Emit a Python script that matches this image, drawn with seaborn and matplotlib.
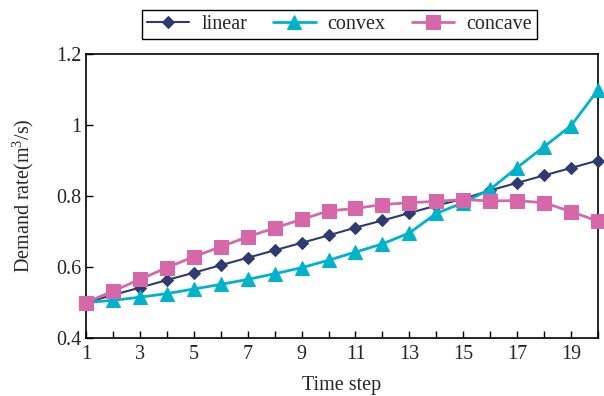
import matplotlib
matplotlib.use("Agg")
import matplotlib.pyplot as plt
import seaborn as sns
import pandas as pd
from matplotlib.ticker import MultipleLocator, FuncFormatter

time_step = list(range(1, 21))
linear = [0.500, 0.521, 0.542, 0.563, 0.584, 0.605, 0.626, 0.647, 0.668, 0.689,
          0.711, 0.731, 0.752, 0.773, 0.792, 0.816, 0.837, 0.858, 0.879, 0.900]
convex = [0.500, 0.506, 0.515, 0.525, 0.538, 0.551, 0.565, 0.581, 0.598, 0.619,
          0.642, 0.665, 0.696, 0.751, 0.781, 0.819, 0.880, 0.939, 0.998, 1.099]
concave = [0.500, 0.532, 0.565, 0.598, 0.629, 0.657, 0.685, 0.710, 0.734, 0.758,
           0.765, 0.776, 0.781, 0.785, 0.790, 0.786, 0.787, 0.781, 0.756, 0.729]

series_names = ["linear", "convex", "concave"]
colors = {"linear": "#2E3A70", "convex": "#00B2CA", "concave": "#D667A8"}
markers = {"linear": "D", "convex": "^", "concave": "s"}
msizes = {"linear": 6.5, "convex": 10.5, "concave": 10.5}
lws = {"linear": 1.5, "convex": 2.0, "concave": 2.0}

df = pd.DataFrame({"Time step": time_step * 3,
                   "value": linear + convex + concave,
                   "series": ["linear"] * 20 + ["convex"] * 20 + ["concave"] * 20})

sns.set_style("white")
plt.rcParams["font.family"] = ["Liberation Serif", "DejaVu Serif"]
plt.rcParams["mathtext.fontset"] = "custom"
plt.rcParams["mathtext.rm"] = "Liberation Serif"
plt.rcParams["mathtext.it"] = "Liberation Serif:italic"

fig = plt.figure(figsize=(6.04, 3.96), dpi=100)
ax = fig.add_axes([86 / 604, 1 - 338 / 396, (598 - 86) / 604, (338 - 54) / 396])

for name in series_names:
    sub = df[df["series"] == name]
    sns.lineplot(data=sub, x="Time step", y="value", ax=ax, color=colors[name],
                 marker=markers[name], markersize=msizes[name], linewidth=lws[name],
                 markeredgecolor=colors[name], label=name, clip_on=False, zorder=3)

ax.set_xlim(1, 20)
ax.set_ylim(0.4, 1.2)
ax.xaxis.set_major_locator(MultipleLocator(2))
ax.xaxis.set_minor_locator(MultipleLocator(1))
ax.set_xticks(list(range(1, 20, 2)))
ax.set_yticks([0.4, 0.6, 0.8, 1.0, 1.2])
ax.yaxis.set_major_formatter(FuncFormatter(lambda v, p: f"{v:g}"))
ax.tick_params(axis="both", which="both", direction="in", labelsize=14.5,
               bottom=True, left=True, top=False, right=False, color="black")
ax.tick_params(axis="both", which="major", length=5, width=1)
ax.tick_params(axis="x", which="minor", length=5, width=1)
ax.tick_params(axis="x", which="major", pad=5)
for s in ax.spines.values():
    s.set_color("black")
    s.set_linewidth(1.2)

ax.set_xlabel("Time step", fontsize=14.5, labelpad=9)
ax.set_ylabel("Demand rate(m$^3$/s)", fontsize=14.5, labelpad=14)

leg = ax.legend(loc="upper center", bbox_to_anchor=(0.495, 1.19), ncol=3,
                fontsize=14.5, frameon=True, fancybox=False, edgecolor="black",
                framealpha=1, handlelength=2.1, columnspacing=1.3,
                borderpad=0.25, handletextpad=0.6)
leg.get_frame().set_linewidth(1.0)

fig.savefig("out.png", dpi=100)
